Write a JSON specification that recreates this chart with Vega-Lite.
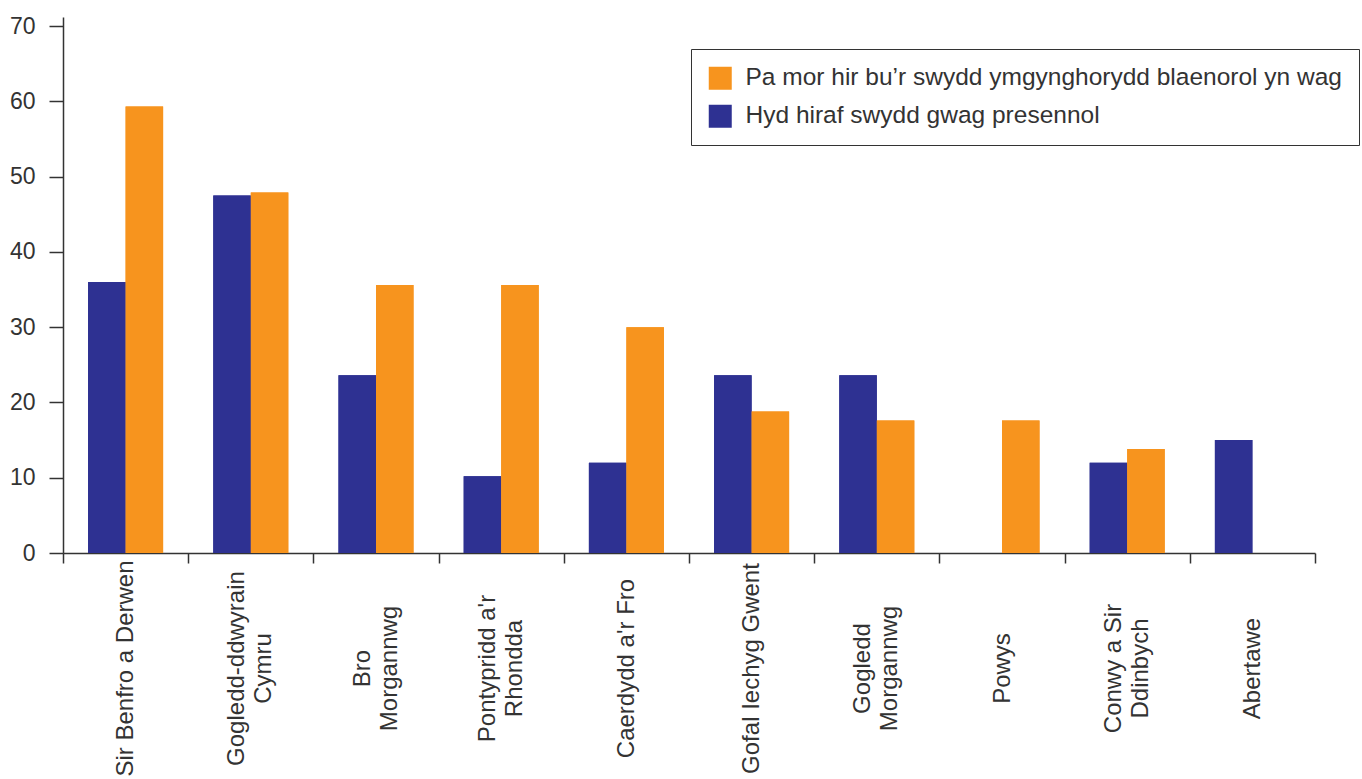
{
  "$schema": "https://vega.github.io/schema/vega-lite/v6.json",
  "width": 1252,
  "height": 536,
  "autosize": {"type": "none"},
  "padding": {"left": 63, "top": 17, "right": 47, "bottom": 226},
  "background": "white",
  "config": {"view": {"stroke": null}, "font": "Liberation Sans"},
  "data": {
    "values": [
      {"region": "Sir Benfro a Derwen", "series": "Hyd hiraf swydd gwag presennol", "value": 36.0},
      {"region": "Sir Benfro a Derwen", "series": "Pa mor hir bu’r swydd ymgynghorydd blaenorol yn wag", "value": 59.3},
      {"region": "Gogledd-ddwyrain|Cymru", "series": "Hyd hiraf swydd gwag presennol", "value": 47.5},
      {"region": "Gogledd-ddwyrain|Cymru", "series": "Pa mor hir bu’r swydd ymgynghorydd blaenorol yn wag", "value": 47.9},
      {"region": "Bro|Morgannwg", "series": "Hyd hiraf swydd gwag presennol", "value": 23.6},
      {"region": "Bro|Morgannwg", "series": "Pa mor hir bu’r swydd ymgynghorydd blaenorol yn wag", "value": 35.6},
      {"region": "Pontypridd a'r|Rhondda", "series": "Hyd hiraf swydd gwag presennol", "value": 10.2},
      {"region": "Pontypridd a'r|Rhondda", "series": "Pa mor hir bu’r swydd ymgynghorydd blaenorol yn wag", "value": 35.6},
      {"region": "Caerdydd a'r Fro", "series": "Hyd hiraf swydd gwag presennol", "value": 12.0},
      {"region": "Caerdydd a'r Fro", "series": "Pa mor hir bu’r swydd ymgynghorydd blaenorol yn wag", "value": 30.0},
      {"region": "Gofal Iechyg Gwent", "series": "Hyd hiraf swydd gwag presennol", "value": 23.6},
      {"region": "Gofal Iechyg Gwent", "series": "Pa mor hir bu’r swydd ymgynghorydd blaenorol yn wag", "value": 18.8},
      {"region": "Gogledd|Morgannwg", "series": "Hyd hiraf swydd gwag presennol", "value": 23.6},
      {"region": "Gogledd|Morgannwg", "series": "Pa mor hir bu’r swydd ymgynghorydd blaenorol yn wag", "value": 17.6},
      {"region": "Powys", "series": "Pa mor hir bu’r swydd ymgynghorydd blaenorol yn wag", "value": 17.6},
      {"region": "Conwy a Sir|Ddinbych", "series": "Hyd hiraf swydd gwag presennol", "value": 12.0},
      {"region": "Conwy a Sir|Ddinbych", "series": "Pa mor hir bu’r swydd ymgynghorydd blaenorol yn wag", "value": 13.8},
      {"region": "Abertawe", "series": "Hyd hiraf swydd gwag presennol", "value": 15.0}
    ]
  },
  "encoding": {
    "xOffset": {
      "field": "series",
      "type": "nominal",
      "scale": {
        "domain": ["Hyd hiraf swydd gwag presennol", "Pa mor hir bu’r swydd ymgynghorydd blaenorol yn wag"],
        "paddingInner": 0,
        "paddingOuter": 0.669
      }
    },
    "y": {
      "field": "value",
      "type": "quantitative",
      "scale": {"domain": [0, 71.2], "nice": false},
      "axis": {
        "title": null,
        "values": [0, 10, 20, 30, 40, 50, 60, 70],
        "grid": false,
        "tickSize": 14,
        "labelPadding": 14,
        "labelFontSize": 23,
        "labelColor": "#333333",
        "tickColor": "#333333",
        "domainColor": "#333333",
        "tickWidth": 1.5,
        "domainWidth": 1.5
      }
    },
    "color": {
      "field": "series",
      "type": "nominal",
      "scale": {
        "domain": ["Pa mor hir bu’r swydd ymgynghorydd blaenorol yn wag", "Hyd hiraf swydd gwag presennol"],
        "range": ["#F7941E", "#2E3192"]
      },
      "legend": {
        "title": null,
        "orient": "none",
        "legendX": 628,
        "legendY": 32,
        "strokeColor": "#333333",
        "padding": 17,
        "symbolType": "square",
        "symbolSize": 529,
        "symbolStrokeWidth": 0,
        "symbolOpacity": 1,
        "labelFontSize": 24.5,
        "labelColor": "#333333",
        "labelLimit": 0,
        "rowPadding": 13,
        "labelOffset": 13
      }
    }
  },
  "layer": [
    {
      "mark": {"type": "bar"},
      "encoding": {
        "x": {
          "field": "region",
          "type": "nominal",
          "sort": null,
          "scale": {"paddingInner": 0, "paddingOuter": 0},
          "axis": {
            "orient": "bottom",
            "title": null,
            "labelAngle": -90,
            "labelAlign": "center",
            "labelBaseline": "middle",
            "labelPadding": 105,
            "labelExpr": "indexof(datum.label, '|') >= 0 ? '' : datum.label",
            "labelFontSize": 24,
            "labelColor": "#333333",
            "labelLimit": 0,
            "tickBand": "extent",
            "tickSize": 10,
            "tickColor": "#333333",
            "domainColor": "#333333",
            "tickWidth": 1.5,
            "domainWidth": 1.5
          }
        }
      }
    },
    {
      "mark": {"type": "bar"},
      "encoding": {
        "x": {
          "field": "region",
          "type": "nominal",
          "sort": null,
          "scale": {"paddingInner": 0, "paddingOuter": 0},
          "axis": {
            "orient": "bottom",
            "title": null,
            "labelAngle": -90,
            "labelAlign": "center",
            "labelBaseline": "middle",
            "labelPadding": 115,
            "labelOffset": -13.5,
            "labelExpr": "indexof(datum.label, '|') >= 0 ? split(datum.label, '|') : ''",
            "labelLineHeight": 27,
            "labelFontSize": 24,
            "labelColor": "#333333",
            "labelLimit": 0,
            "ticks": false,
            "domain": false
          }
        }
      }
    }
  ],
  "resolve": {"axis": {"x": "independent"}}
}
